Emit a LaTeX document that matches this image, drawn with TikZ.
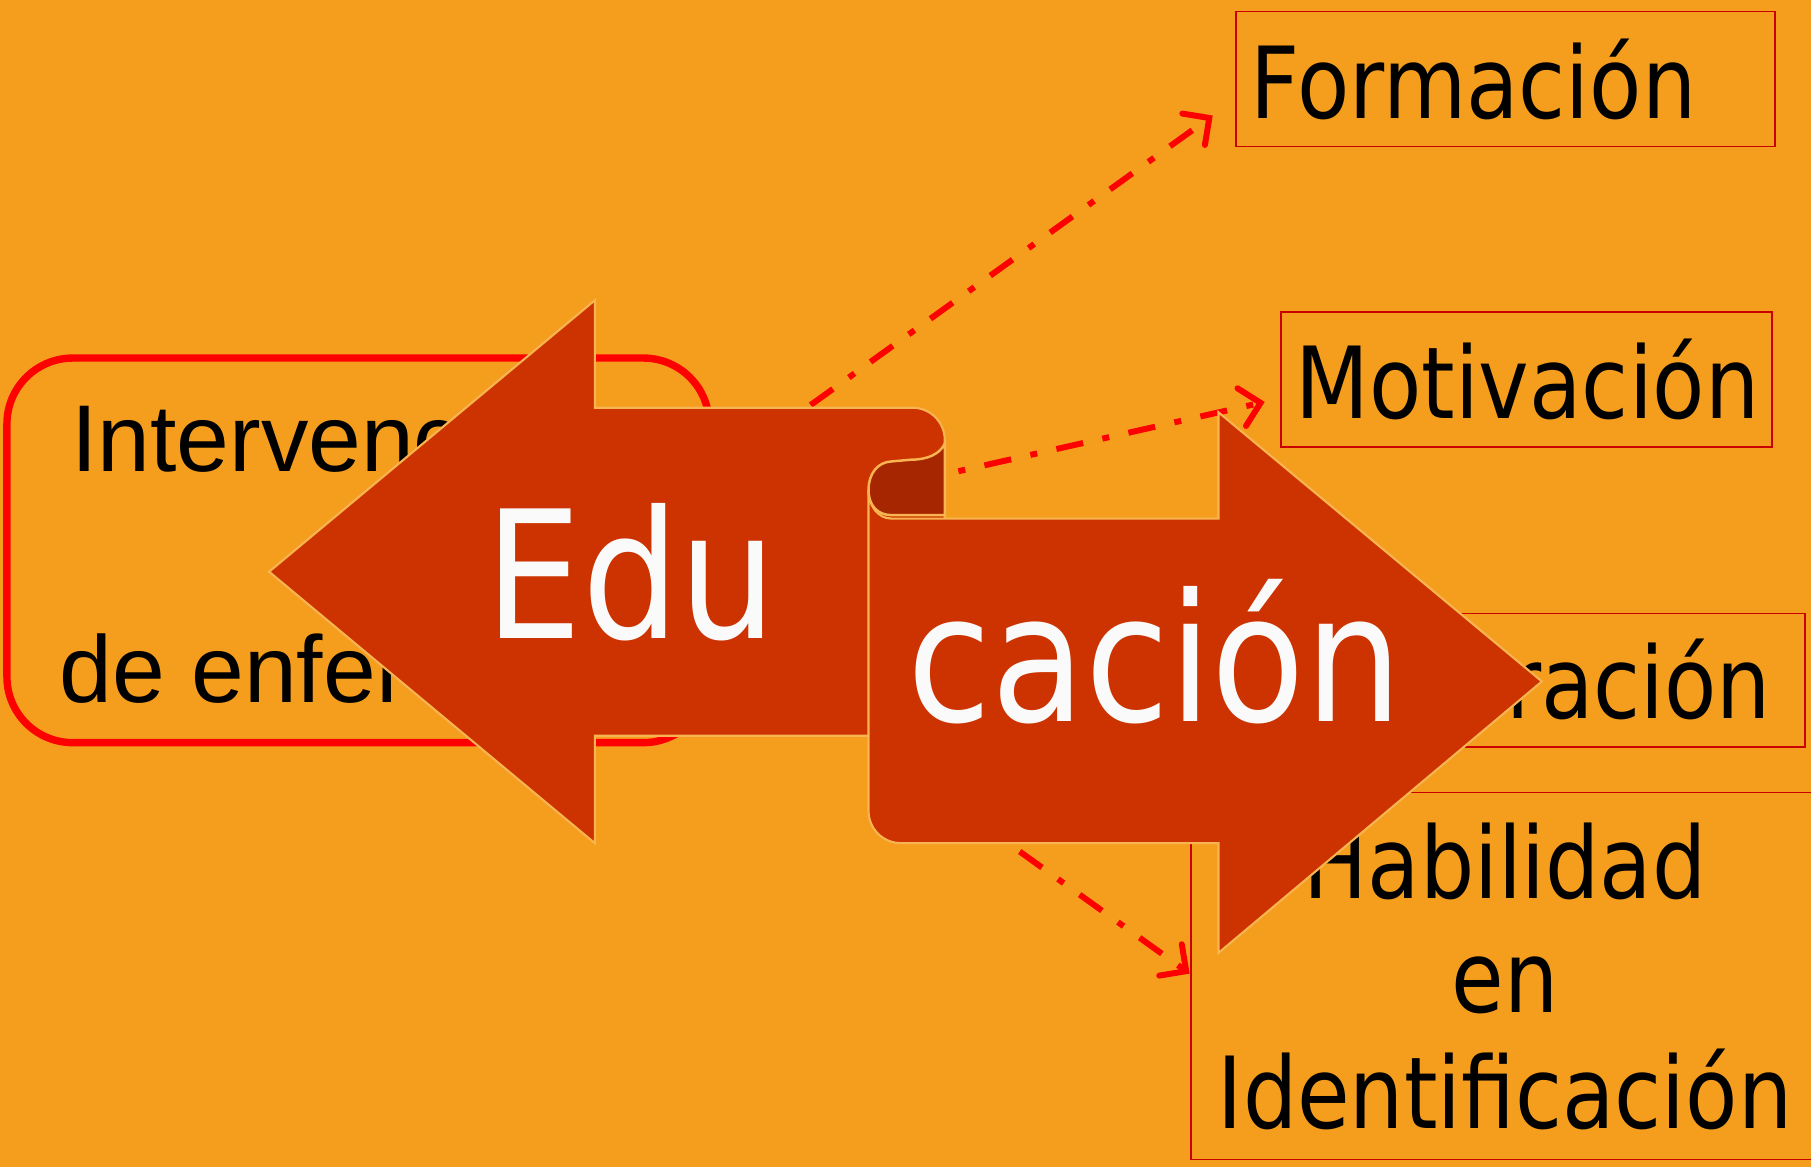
\documentclass[tikz,border=0pt]{standalone}
\usepackage{fontspec}
\usetikzlibrary{arrows.meta}
\newfontfamily\boxfont[FakeStretch=0.86]{DejaVu Sans}
\newfontfamily\leftfont{Liberation Sans}
\definecolor{bg}{RGB}{245,158,30}
\definecolor{arrowred}{RGB}{204,51,0}
\definecolor{foldred}{RGB}{165,38,0}
\definecolor{edgeor}{RGB}{248,180,80}
\definecolor{boxred}{RGB}{200,0,0}
\definecolor{linkred}{RGB}{255,0,0}
\definecolor{txtwhite}{RGB}{250,250,250}
\newlength\pu
\setlength\pu{0.01155cm}
\tikzset{
  rbox/.style={draw=boxred, line width=0.45pt, inner sep=0pt},
  lbox/.style={draw=linkred, line width=2.1pt, rounded corners=57\pu, inner sep=0pt},
  btext/.style={font=\boxfont\fontsize{28.3}{30}\selectfont, text=black, inner sep=0pt},
  ltext/.style={font=\leftfont\fontsize{27}{30}\selectfont, text=black, inner sep=0pt},
  bigtext/.style={font=\boxfont\fontsize{50.6}{55}\selectfont, text=txtwhite, inner sep=0pt},
  link/.style={draw=linkred, line width=1.7pt, dash pattern=on 7.8pt off 5.6pt on 2pt off 5.6pt,
    -{Straight Barb[length=5.5pt,width=11pt,line cap=round]}},
  bigarrow/.style={fill=arrowred, draw=edgeor, line width=0.6pt, line join=miter},
}
\begin{document}
\begin{tikzpicture}[x=0.01155cm,y=-0.01155cm]
\useasboundingbox (0,0) rectangle (1568,1010);
\fill[bg] (0,0) rectangle (1568,1010);
\clip (0,0) rectangle (1568,1010);

% left rounded box
\node[lbox, minimum width=608\pu, minimum height=333\pu] (interv) at (310,476.5) {};
\node[ltext, anchor=base west] (t1) at (61,408) {Intervenc};
\node[ltext, anchor=base west] (t2) at (51,608) {de enfer};

% right boxes
\node[rbox, minimum width=467\pu, minimum height=117\pu] (form) at (1303.5,68.5) {};
\node[btext, anchor=base west] (formt) at (1082.5,103) {Formación};
\node[rbox, minimum width=425\pu, minimum height=117\pu] (motiv) at (1321.5,328.5) {};
\node[btext, anchor=base west] (motivt) at (1121,362) {Motivación};
\node[rbox, minimum width=463\pu, minimum height=116\pu] (third) at (1331.5,589) {};
\node[btext, anchor=base east] (thirdt) at (1534,622) {ración};
\node[rbox, minimum width=545\pu, minimum height=318\pu] (habil) at (1303.5,845) {};
\node[btext, anchor=base] (h1) at (1303,778) {Habilidad};
\node[btext, anchor=base] (h2) at (1303,877) {en};
\node[btext, anchor=base] (h3) at (1303,977) {Identificación};

% connectors
\coordinate (s1) at (650,388);
\coordinate (e1) at (1050,100);
\coordinate (s2) at (790,417);
\coordinate (e2) at (1095,348);
\coordinate (s3) at (831,700);
\coordinate (e3) at (1030,843);
\draw[link] (s1) -- (e1);
\draw[link] (s2) -- (e2);
\draw[link] (s3) -- (e3);

% left arrow
\filldraw[bigarrow] (233,495) -- (515,260) -- (515,353) -- (790,353)
  .. controls (805.5,353) and (818,365.5) .. (818,381) -- (818,637) -- (515,637) -- (515,730) -- cycle;
% right arrow
\filldraw[bigarrow] (752,424) -- (752,702) .. controls (752,717.5) and (764.5,730) .. (780,730)
  -- (1055,730) -- (1055,825) -- (1335,590) -- (1055,357) -- (1055,449) -- (772,449)
  .. controls (760,449) and (752,438) .. (752,424) -- cycle;
% fold
\filldraw[fill=foldred, draw=edgeor, line width=0.7pt] (818,384) .. controls (814,393) and (803,398) .. (789,398)
  -- (772,399.5) .. controls (760,400) and (752,410) .. (752,424)
  .. controls (752,438) and (760,446) .. (772,446) -- (818,446) -- cycle;

\node[bigtext, anchor=base west] (edu) at (420,553) {Edu};
\node[bigtext, anchor=base west] (cac) at (785,625) {cación};
\end{tikzpicture}
\end{document}
